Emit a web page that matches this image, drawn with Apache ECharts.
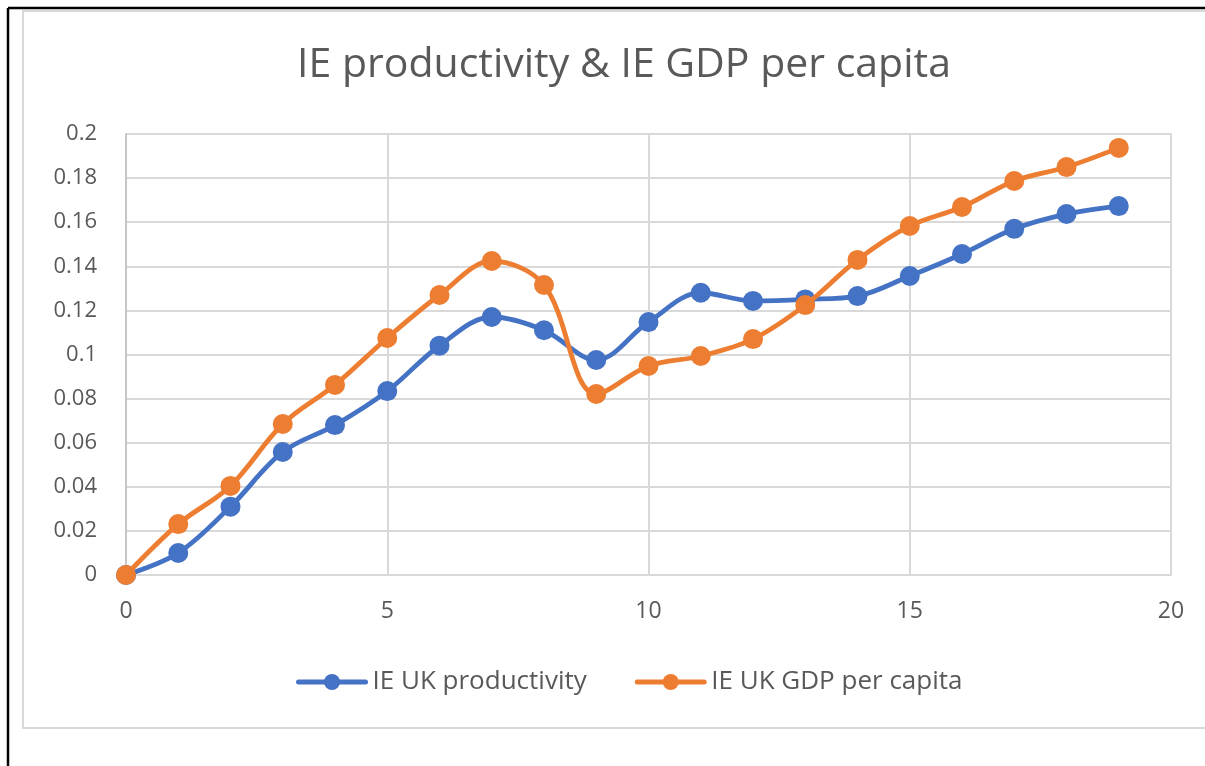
<!DOCTYPE html>
<html>
<head>
<meta charset="utf-8">
<script src="https://cdn.jsdelivr.net/npm/echarts@6/dist/echarts.min.js"></script>
<style>
html,body{margin:0;padding:0;background:#fff;}
#chart{width:1205px;height:766px;}
</style>
</head>
<body>
<div id="chart"></div>
<script>
const titleText = "IE productivity & IE GDP per capita";
const seriesNames = ["IE UK productivity", "IE UK GDP per capita"];
const xValues = [0,1,2,3,4,5,6,7,8,9,10,11,12,13,14,15,16,17,18,19];
const productivity = [0, 0.010, 0.031, 0.0558, 0.068, 0.0834, 0.104, 0.117, 0.111, 0.0975, 0.1147, 0.128, 0.1243, 0.125, 0.1265, 0.1356, 0.1456, 0.157, 0.1637, 0.1673];
const gdpPerCapita = [0, 0.0231, 0.0404, 0.0685, 0.0862, 0.1075, 0.127, 0.1424, 0.1315, 0.0821, 0.0948, 0.0993, 0.107, 0.1224, 0.1429, 0.1583, 0.1669, 0.1787, 0.185, 0.1937];
const xTicks = [0, 5, 10, 15, 20];
const yTicks = [0, 0.02, 0.04, 0.06, 0.08, 0.1, 0.12, 0.14, 0.16, 0.18, 0.2];

const FONT = "Open Sans";
const TEXT = "#595959";
const chart = echarts.init(document.getElementById('chart'));
const toPairs = arr => xValues.map((x, i) => [x, arr[i]]);

chart.setOption({
  animation: false,
  backgroundColor: '#fff',
  graphic: [
    { type: 'rect', shape: { x: 23, y: 11, width: 1250, height: 717 }, style: { fill: 'none', stroke: '#D9D9D9', lineWidth: 2 }, z: 0 },
    { type: 'line', shape: { x1: 8, y1: 8, x2: 1205, y2: 8 }, style: { stroke: '#000', lineWidth: 2.5 }, z: 10 },
    { type: 'line', shape: { x1: 8, y1: 8, x2: 8, y2: 766 }, style: { stroke: '#000', lineWidth: 2.5 }, z: 10 }
  ],
  title: {
    text: titleText,
    left: 619, top: 40, textAlign: 'center',
    textStyle: { fontFamily: FONT, fontSize: 41, fontWeight: 'normal', color: TEXT }
  },
  legend: {
    data: seriesNames,
    left: 296, top: 669, padding: 0,
    itemWidth: 67, itemHeight: 20, itemGap: 48,
    lineStyle: { width: 5, cap: 'round' },
    textStyle: { fontFamily: FONT, fontSize: 26, color: TEXT, padding: [0,0,0,2] }
  },
  grid: {
    left: 126, top: 134, right: 34, bottom: 191,
    show: true, borderColor: '#D9D9D9', borderWidth: 2
  },
  xAxis: {
    type: 'value', min: 0, max: 20, interval: 5,
    axisLine: { show: false },
    axisTick: { show: false },
    splitLine: { show: true, lineStyle: { color: '#D9D9D9', width: 2 } },
    axisLabel: { fontFamily: FONT, fontSize: 23, color: TEXT, margin: 25,
      formatter: v => xTicks.includes(v) ? String(v) : '' }
  },
  yAxis: {
    type: 'value', min: 0, max: 0.2, interval: 0.02,
    axisLine: { show: true, lineStyle: { color: '#C6C6C6', width: 2 } },
    axisTick: { show: false },
    splitLine: { show: true, lineStyle: { color: '#D9D9D9', width: 2 } },
    axisLabel: { fontFamily: FONT, fontSize: 22, color: TEXT, margin: 29,
      formatter: v => { const t = yTicks.find(k => Math.abs(k - v) < 1e-9); return t === undefined ? '' : String(+t.toFixed(2)); } }
  },
  series: [
    { name: seriesNames[0], type: 'line', data: toPairs(productivity), smooth: 0.35,
      symbol: 'circle', symbolSize: 20, color: '#4472C4',
      lineStyle: { width: 4.8, color: '#4472C4', cap: 'round' }, itemStyle: { color: '#4472C4' }, z: 3 },
    { name: seriesNames[1], type: 'line', data: toPairs(gdpPerCapita), smooth: 0.35,
      symbol: 'circle', symbolSize: 20, color: '#ED7D31',
      lineStyle: { width: 4.8, color: '#ED7D31', cap: 'round' }, itemStyle: { color: '#ED7D31' }, z: 4 }
  ]
});
</script>
</body>
</html>
